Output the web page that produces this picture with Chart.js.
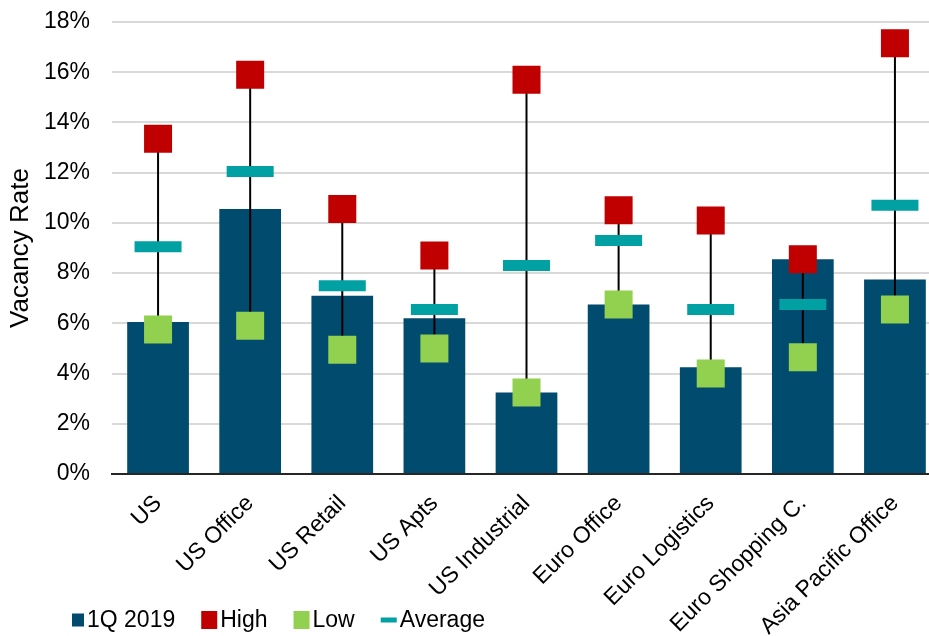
<!DOCTYPE html>
<html>
<head>
<meta charset="utf-8">
<script src="https://cdn.jsdelivr.net/npm/chart.js@4.4.1/dist/chart.umd.min.js"></script>
<style>
  html, body { margin: 0; padding: 0; background: #fff; overflow: hidden; }
  #wrap { position: relative; width: 945px; height: 636px; }
</style>
</head>
<body>
<div id="wrap"><canvas id="c" width="945" height="636"></canvas></div>
<script>
// Vacancy rates by property sector (%)
const categories = ['US', 'US Office', 'US Retail', 'US Apts', 'US Industrial',
                    'Euro Office', 'Euro Logistics', 'Euro Shopping C.', 'Asia Pacific Office'];
const current = [6.05, 10.55, 7.1, 6.2, 3.25, 6.75, 4.25, 8.55, 7.75];   // 1Q 2019
const high    = [13.35, 15.9, 10.55, 8.7, 15.7, 10.5, 10.1, 8.55, 17.15];
const low     = [5.75, 5.9, 4.95, 5.0, 3.25, 6.75, 4.0, 4.65, 6.55];
const average = [9.05, 12.05, 7.5, 6.55, 8.3, 9.3, 6.55, 6.75, 10.7];
const yTicks  = [0, 2, 4, 6, 8, 10, 12, 14, 16, 18];
const legendOrder = ['1Q 2019', 'High', 'Low', 'Average'];

const NAVY = '#004B6E', RED = '#C00000', GREEN = '#92D050', TEAL = '#00A0A3';
const FONT = '"Liberation Sans", Arial, sans-serif';

Chart.defaults.font.family = FONT;
Chart.defaults.font.size = 23;
Chart.defaults.color = '#000';

// Range whiskers: floating bars from low to high
const ranges = categories.map((_, i) => [low[i], high[i]]);

// Legend drawn along the bottom-left, overlapping the slanted labels area
const bottomLegend = {
  id: 'bottomLegend',
  afterDraw(chart) {
    const ctx = chart.ctx;
    ctx.save();
    ctx.font = '23px ' + FONT;
    ctx.textBaseline = 'middle';
    const cy = 620;
    let x = 72;
    legendOrder.forEach(name => {
      const ds = chart.data.datasets.find(d => d.label === name);
      const b = ds.legendBox;
      ctx.fillStyle = ds.legendColor;
      ctx.fillRect(x, cy - b.h / 2, b.w, b.h);
      x += b.w + 3;
      ctx.fillStyle = '#000';
      ctx.fillText(ds.label, x, cy + 1);
      x += ctx.measureText(ds.label).width + 26;
    });
    ctx.restore();
  }
};

new Chart(document.getElementById('c'), {
  data: {
    labels: categories,
    datasets: [
      {
        type: 'line', label: 'Low', data: low, order: 1,
        showLine: false, pointStyle: 'rect', pointRadius: 19.8, pointHoverRadius: 19.8,
        pointBackgroundColor: GREEN, pointBorderWidth: 0,
        legendBox: { w: 16, h: 18 }, legendColor: GREEN
      },
      {
        type: 'line', label: 'High', data: high, order: 2,
        showLine: false, pointStyle: 'rect', pointRadius: 19.8, pointHoverRadius: 19.8,
        pointBackgroundColor: RED, pointBorderWidth: 0,
        legendBox: { w: 16, h: 18 }, legendColor: RED
      },
      {
        type: 'line', label: 'Average', data: average, order: 3,
        showLine: false, pointStyle: 'line', pointRadius: 23.5, pointHoverRadius: 23.5,
        pointBorderColor: TEAL, pointBorderWidth: 11,
        legendBox: { w: 16, h: 5 }, legendColor: TEAL
      },
      {
        type: 'bar', label: 'Range', data: ranges, order: 4,
        grouped: false, maxBarThickness: 2, backgroundColor: '#000', borderWidth: 0
      },
      {
        type: 'bar', label: '1Q 2019', data: current, order: 5,
        backgroundColor: NAVY, borderWidth: 0,
        categoryPercentage: 1, barPercentage: 0.67,
        legendBox: { w: 12, h: 13 }, legendColor: NAVY
      }
    ]
  },
  options: {
    responsive: false,
    animation: false,
    layout: { autoPadding: false, padding: { top: 22, right: 4, left: 0, bottom: 0 } },
    plugins: { legend: { display: false }, tooltip: { enabled: false } },
    scales: {
      x: {
        grid: { display: false },
        border: { display: true, color: '#262626', width: 2 },
        ticks: { maxRotation: 45, minRotation: 45, padding: 8, color: '#000', font: { size: 23 } },
        afterFit(scale) {
          scale.height = 162;
          scale.paddingLeft = 0;
          scale.paddingRight = 0;
        }
      },
      y: {
        min: 0, max: 18,
        afterBuildTicks(scale) { scale.ticks = yTicks.map(v => ({ value: v })); },
        ticks: { padding: 22, color: '#000', callback: v => v + '%', font: { size: 23 } },
        grid: { color: '#D9D9D9', lineWidth: 2, drawTicks: false },
        border: { display: false },
        title: { display: true, text: 'Vacancy Rate', color: '#000', font: { size: 26 }, padding: { top: 5, bottom: 0 } },
        afterFit(scale) {
          scale.width = 112;
          scale.paddingTop = 0;
          scale.paddingBottom = 0;
        }
      }
    }
  },
  plugins: [bottomLegend]
});
</script>
</body>
</html>
